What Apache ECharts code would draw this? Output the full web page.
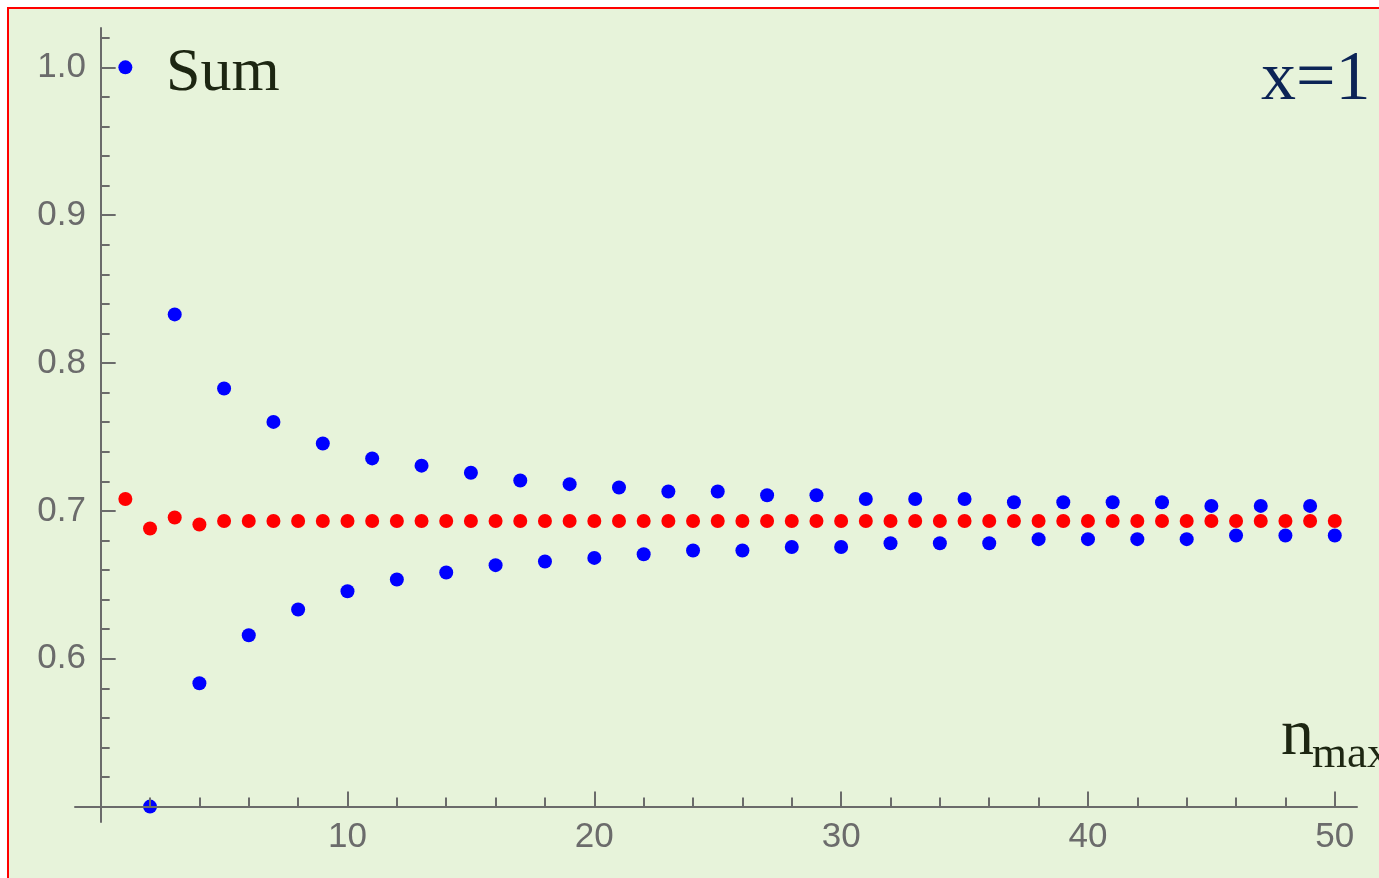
<!DOCTYPE html>
<html><head><meta charset="utf-8">
<script src="https://cdn.jsdelivr.net/npm/echarts@6/dist/echarts.min.js"></script>
<style>
html,body{margin:0;padding:0;width:1379px;height:878px;overflow:hidden;background:#ffffff;}
#frame{position:absolute;left:7px;top:7px;width:1420px;height:920px;border:2px solid #ff0000;background:#e7f3da;box-sizing:border-box;}
#chart{position:absolute;left:0;top:0;width:1379px;height:878px;}
</style></head><body>
<div id="frame"></div><div id="chart"></div>
<script>
const nValues = [1,2,3,4,5,6,7,8,9,10,11,12,13,14,15,16,17,18,19,20,21,22,23,24,25,26,27,28,29,30,31,32,33,34,35,36,37,38,39,40,41,42,43,44,45,46,47,48,49,50];
const sumValues = [1.0,0.5,0.8329,0.5834,0.7828,0.6159,0.7602,0.6333,0.7456,0.6457,
  0.7355,0.6536,0.7306,0.6583,0.7258,0.6633,0.7206,0.6658,0.7181,0.6682,
  0.7158,0.6707,0.7131,0.6732,0.7131,0.6732,0.7106,0.6756,0.7106,0.6756,
  0.7081,0.6781,0.7081,0.6781,0.7081,0.6781,0.7059,0.6809,0.7059,0.6809,
  0.7059,0.6809,0.7059,0.6809,0.7034,0.6834,0.7034,0.6834,0.7034,0.6834];
const accelValues = [0.7081,0.6881,0.6955,0.6908,0.6932,0.6932,0.6932,0.6932,0.6932,0.6932,
  0.6932,0.6932,0.6932,0.6932,0.6932,0.6932,0.6932,0.6932,0.6932,0.6932,
  0.6932,0.6932,0.6932,0.6932,0.6932,0.6932,0.6932,0.6932,0.6932,0.6932,
  0.6932,0.6932,0.6932,0.6932,0.6932,0.6932,0.6932,0.6932,0.6932,0.6932,
  0.6932,0.6932,0.6932,0.6932,0.6932,0.6932,0.6932,0.6932,0.6932,0.6932];
const xMajorTicks = [10,20,30,40,50];
const xMinorTicks = [2,4,6,8,12,14,16,18,22,24,26,28,32,34,36,38,42,44,46,48];
const yMajorTicks = [0.5,0.6,0.7,0.8,0.9,1.0];
const yLabelValues = [0.6,0.7,0.8,0.9,1.0];
const yMinorTicks = [0.52,0.54,0.56,0.58,0.62,0.64,0.66,0.68,0.72,0.74,0.76,0.78,0.82,0.84,0.86,0.88,0.92,0.94,0.96,0.98,1.02];
const sumLabel = 'Sum';
const xLabel = 'x=1';
const axisNameMain = 'n';
const axisNameSub = 'max';

const AX = '#6b6b6b';
const X_MIN = -1.04, X_MAX = 50.9, Y_MIN = 0.4896, Y_MAX = 1.0266;
const chart = echarts.init(document.getElementById('chart'), null, {renderer: 'canvas'});
const lineStyle = {color: AX, width: 2};
const labelFont = {color: '#6b6b6b', fontFamily: '"Liberation Sans", Arial, sans-serif', fontSize: 35};
const option = {
  backgroundColor: 'transparent',
  animation: false,
  grid: {left: 75, right: 22, top: 28, bottom: 56, containLabel: false, outerBoundsMode: 'none'},
  xAxis: [
    {type: 'value', min: X_MIN, max: X_MAX, position: 'bottom', offset: -15.4, z: 5,
     axisLine: {show: true, onZero: false, lineStyle},
     axisTick: {show: true, inside: true, length: 15, customValues: xMajorTicks, lineStyle},
     axisLabel: Object.assign({show: true, customValues: xMajorTicks, margin: 13}, labelFont),
     splitLine: {show: false}},
    {type: 'value', min: X_MIN, max: X_MAX, position: 'bottom', offset: -15.4, z: 5,
     axisLine: {show: false, onZero: false},
     axisTick: {show: true, inside: true, length: 9, customValues: xMinorTicks, lineStyle},
     axisLabel: {show: false},
     splitLine: {show: false}}
  ],
  yAxis: [
    {type: 'value', min: Y_MIN, max: Y_MAX, position: 'left', z: 5,
     axisLine: {show: true, onZero: true, onZeroAxisIndex: 0, lineStyle},
     axisTick: {show: true, inside: true, length: 15, customValues: yMajorTicks, lineStyle},
     axisLabel: Object.assign({show: true, customValues: yLabelValues, formatter: v => v.toFixed(1), margin: -11}, labelFont),
     splitLine: {show: false}},
    {type: 'value', min: Y_MIN, max: Y_MAX, position: 'left', z: 5,
     axisLine: {show: false, onZero: true, onZeroAxisIndex: 0},
     axisTick: {show: true, inside: true, length: 9, customValues: yMinorTicks, lineStyle},
     axisLabel: {show: false},
     splitLine: {show: false}}
  ],
  series: [
    {type: 'scatter', name: 'Sum', xAxisIndex: 0, yAxisIndex: 0, symbol: 'circle', symbolSize: 14,
     itemStyle: {color: '#0000ff', opacity: 1}, data: nValues.map((n, i) => [n, sumValues[i]]), z: 2},
    {type: 'scatter', name: 'Accelerated', xAxisIndex: 0, yAxisIndex: 0, symbol: 'circle', symbolSize: 14,
     itemStyle: {color: '#ff0000', opacity: 1}, data: nValues.map((n, i) => [n, accelValues[i]]), z: 2}
  ],
  graphic: [
    {type: 'text', left: 166, top: 43, z: 10, style: {text: sumLabel, font: '62px "Liberation Serif", "Times New Roman", serif', fill: '#1d2612'}},
    {type: 'text', left: 1261, top: 46, z: 10, style: {text: xLabel, font: '70px "Liberation Serif", "Times New Roman", serif', fill: '#0c2456'}},
    {type: 'text', left: 1281, top: 704, z: 10, style: {text: axisNameMain, font: '66px "Liberation Serif", "Times New Roman", serif', fill: '#1d2612'}},
    {type: 'text', left: 1312, top: 733, z: 10, style: {text: axisNameSub, font: '45px "Liberation Serif", "Times New Roman", serif', fill: '#1d2612'}}
  ]
};
chart.setOption(option);
</script>
</body></html>
